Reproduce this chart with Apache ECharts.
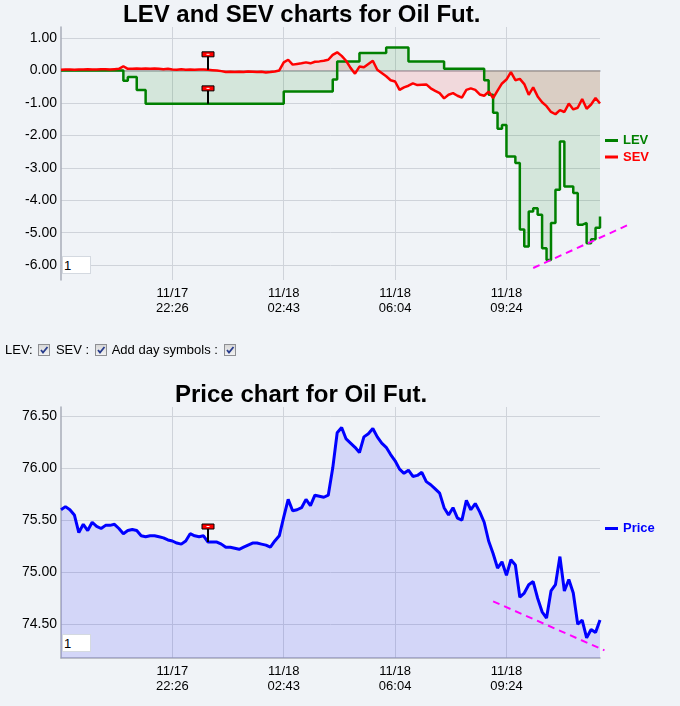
<!DOCTYPE html>
<html>
<head>
    <meta charset="utf-8">
    <title>LEV and SEV charts for Oil Fut.</title>
    <script src="https://cdn.jsdelivr.net/npm/echarts@6/dist/echarts.min.js"></script>
    <style>
        body { margin: 0; background: #f0f3f7; font-family: 'Liberation Sans', Arial, sans-serif; }
        #main { position: absolute; left: 0; top: 0; width: 680px; height: 706px; }
        .box1 { position: absolute; left: 62px; width: 29px; height: 18px; box-sizing: border-box;
                border: 1px solid #d4d9e0; background: #fff; font: 13px 'Liberation Sans', Arial; padding: 0 1px; }
        #opts { position: absolute; left: 5px; top: 342px; font-size: 13px; color: #000; }
        #opts input { -webkit-appearance: none; appearance: none; width: 12px; height: 12px; margin: 0 2px;
                      vertical-align: -2px; border: 1px solid #8e8f93;
                      background: url("data:image/svg+xml;utf8,<svg xmlns='http://www.w3.org/2000/svg' width='10' height='10'><path d='M2 5 L4 7.5 L8.5 2' fill='none' stroke='%23283c8c' stroke-width='1.8'/></svg>") center no-repeat, linear-gradient(#d8d8d8, #f2f2f2); }
    </style>
</head>
<body>
<div id="main"></div>
<input class="box1" style="top:256px" value="1">
<input class="box1" style="top:634px" value="1">
<div id="opts">LEV: <input type="checkbox" checked> SEV : <input type="checkbox" checked> Add day symbols : <input type="checkbox" checked></div>
<script>
    // x positions are bar indexes, labels only on a few of them
    var tickIdx = [25, 50, 75, 100];
    var tickText = ['11/17\n22:26', '11/18\n02:43', '11/18\n06:04', '11/18\n09:24'];

    var lev = [
        0, 0, 0, 0, 0, 0, 0, 0, 0, 0,
        0, 0, 0, 0, -0.32, -0.2, -0.2, -0.6, -0.6, -1.03,
        -1.03, -1.03, -1.03, -1.03, -1.03, -1.03, -1.03, -1.03, -1.03, -1.03,
        -1.03, -1.03, -1.03, -1.03, -1.03, -1.03, -1.03, -1.03, -1.03, -1.03,
        -1.03, -1.03, -1.03, -1.03, -1.03, -1.03, -1.03, -1.03, -1.03, -1.03,
        -0.65, -0.65, -0.65, -0.65, -0.65, -0.65, -0.65, -0.65, -0.65, -0.65,
        -0.65, -0.28, 0.28, 0.28, 0.28, 0.28, 0.28, 0.54, 0.54, 0.54,
        0.54, 0.54, 0.54, 0.71, 0.71, 0.71, 0.71, 0.71, 0.28, 0.28,
        0.28, 0.28, 0.28, 0.28, 0.28, 0.28, 0.05, 0.05, 0.05, 0.05,
        0.05, 0.05, 0.05, 0.05, 0.05, -0.3, -0.75, -1.3, -1.8, -1.68,
        -2.65, -2.65, -2.85, -4.9, -5.43, -4.35, -4.25, -4.45, -5.48, -5.84,
        -4.7, -3.68, -2.19, -3.58, -3.58, -3.78, -4.76, -4.7, -5.33, -5.2,
        -4.85, -4.5
    ];
    var sev = [
        0.02, 0.03, 0.03, 0.02, 0.03, 0.03, 0.04, 0.03, 0.03, 0.04,
        0.04, 0.03, 0.04, 0.05, 0.13, 0.05, 0.05, 0.06, 0.05, 0.06,
        0.05, 0.06, 0.05, 0.04, 0.05, 0.03, 0.02, 0.04, 0.02, 0.03,
        0.02, 0.03, 0.03, 0.02, 0.01, 0.0, -0.02, -0.05, -0.04, -0.05,
        -0.04, -0.05, -0.03, -0.04, -0.05, -0.04, -0.06, -0.05, -0.03, 0.0,
        0.25, 0.33, 0.18, 0.2, 0.22, 0.25, 0.22, 0.27, 0.28, 0.3,
        0.33, 0.48, 0.56, 0.45, 0.3, 0.08, -0.1, 0.12, 0.1, 0.2,
        0.3, 0.02, -0.08, -0.18, -0.3, -0.34, -0.6, -0.52, -0.47, -0.4,
        -0.45, -0.44, -0.43, -0.55, -0.63, -0.7, -0.86, -0.75, -0.7, -0.78,
        -0.84, -0.6, -0.55, -0.6, -0.74, -0.78, -0.65, -0.85, -0.62, -0.4,
        -0.28, -0.05, -0.3, -0.26, -0.42, -0.75, -0.52, -0.8, -0.98, -1.1,
        -1.28, -1.35, -1.22, -1.28, -1.02, -1.2, -1.15, -0.88, -1.18, -1.05,
        -0.85, -1.02
    ];
    var price = [
        75.6, 75.63, 75.6, 75.55, 75.38, 75.46, 75.4, 75.48, 75.44, 75.42,
        75.45, 75.45, 75.46, 75.42, 75.37, 75.4, 75.41, 75.4, 75.35, 75.34,
        75.35, 75.35, 75.34, 75.33, 75.31, 75.3, 75.28, 75.27, 75.3, 75.37,
        75.35, 75.34, 75.35, 75.29, 75.29, 75.29, 75.27, 75.24, 75.24, 75.23,
        75.22, 75.24, 75.26, 75.28, 75.28, 75.27, 75.26, 75.24, 75.3, 75.35,
        75.53, 75.7, 75.59, 75.6, 75.62, 75.7, 75.64, 75.74, 75.73, 75.72,
        75.74, 76.0, 76.34, 76.39, 76.28, 76.24, 76.2, 76.15, 76.3, 76.33,
        76.38, 76.3, 76.24, 76.2, 76.13, 76.07, 75.99, 75.95, 75.98, 75.92,
        75.93, 75.96, 75.87, 75.84, 75.8, 75.76, 75.62, 75.55, 75.62, 75.52,
        75.5, 75.69, 75.6, 75.66, 75.58, 75.48, 75.3, 75.18, 75.04, 75.1,
        74.97, 75.12, 75.07, 74.76, 74.8, 74.88, 74.91, 74.75, 74.62, 74.56,
        74.82, 74.88, 75.15, 74.82, 74.93, 74.8, 74.5, 74.54, 74.37, 74.45,
        74.42, 74.54
    ];
    // day symbol and trend lines
    var flagIdx = 33;
    var levTrend = [106, -6.09, 128, -4.72];
    var priceTrend = [97, 74.72, 122, 74.25];

    var cats = [];
    for (var i = 0; i < price.length; i++) cats.push(String(i));

    var font = "'Liberation Sans', Arial, sans-serif";

    function showTick(i) { return tickIdx.indexOf(i) >= 0; }
    function xAxisOf(g) {
        return {
            type: 'category', gridIndex: g, data: cats, boundaryGap: false,
            axisLine: { lineStyle: { color: '#a9adb8', width: 1.5 } },
            axisTick: { show: false },
            axisLabel: {
                interval: function (i) { return showTick(i); },
                formatter: function (v, i) { var k = tickIdx.indexOf(i); return k >= 0 ? tickText[k] : ''; },
                color: '#000', fontSize: 13, lineHeight: 15, margin: 6, fontFamily: font
            },
            splitLine: { show: true, interval: function (i) { return showTick(i); },
                lineStyle: { color: '#cfd3da' } }
        };
    }
    function yAxisOf(g, mn, mx, step) {
        return {
            type: 'value', gridIndex: g, min: mn, max: mx, minInterval: step, maxInterval: step,
            axisLine: { show: true, lineStyle: { color: '#a9adb8', width: 1.5 } },
            axisTick: { show: false },
            axisLabel: {
                color: '#000', fontSize: 14, margin: 4, fontFamily: font,
                formatter: function (v) {
                    var r = v / step;
                    return Math.abs(r - Math.round(r)) > 1e-6 ? '' : v.toFixed(2);
                }
            },
            splitLine: { lineStyle: { color: '#cfd3da' }, showMinLine: false, showMaxLine: false }
        };
    }

    function flagItem(params, api) {
        var p = api.coord([api.value(0), api.value(1)]);
        return {
            type: 'group', children: [
                { type: 'line', shape: { x1: p[0], y1: p[1], x2: p[0], y2: p[1] - 14 },
                  style: { stroke: '#000', lineWidth: 2 } },
                { type: 'rect', shape: { x: p[0] - 6, y: p[1] - 18, width: 12, height: 5 },
                  style: { fill: '#ff0000', stroke: '#000', lineWidth: 1 } },
                { type: 'rect', shape: { x: p[0] - 1.5, y: p[1] - 16, width: 3, height: 1 },
                  style: { fill: '#fff' } }
            ]
        };
    }
    function trendItem(params, api) {
        var a = api.coord([api.value(0), api.value(1)]);
        var b = api.coord([api.value(2), api.value(3)]);
        return { type: 'line', shape: { x1: a[0], y1: a[1], x2: b[0], y2: b[1] },
                 style: { stroke: '#ff00ff', lineWidth: 2, lineDash: [7, 5] } };
    }

    var chart = echarts.init(document.getElementById('main'));
    var option = {
        animation: false,
        title: [
            { text: 'LEV and SEV charts for Oil Fut.', left: 123, top: 3, padding: 0,
              textStyle: { fontSize: 24, fontWeight: 'bold', color: '#000', fontFamily: font } },
            { text: 'Price chart for Oil Fut.', left: 175, top: 383, padding: 0,
              textStyle: { fontSize: 24, fontWeight: 'bold', color: '#000', fontFamily: font } }
        ],
        legend: [
            { data: [{ name: 'LEV', textStyle: { color: '#008000' } }, { name: 'SEV', textStyle: { color: '#ff0000' } }],
              orient: 'vertical', left: 605, top: 134, padding: 0, itemWidth: 13, itemHeight: 3, itemGap: 3.5,
              icon: 'rect', selectedMode: false,
              textStyle: { fontSize: 13, fontWeight: 'bold', fontFamily: font } },
            { data: [{ name: 'Price', textStyle: { color: '#0000ff' } }],
              orient: 'vertical', left: 605, top: 522, padding: 0, itemWidth: 13, itemHeight: 3,
              icon: 'rect', selectedMode: false,
              textStyle: { fontSize: 13, fontWeight: 'bold', fontFamily: font } }
        ],
        grid: [
            { left: 61, top: 27, width: 539, height: 253 },
            { left: 61, top: 407, width: 539, height: 251 }
        ],
        xAxis: [xAxisOf(0), xAxisOf(1)],
        yAxis: [yAxisOf(0, -6.46, 1.34, 1), yAxisOf(1, 74.176, 76.587, 0.5)],
        series: [
            { name: 'LEV', type: 'line', xAxisIndex: 0, yAxisIndex: 0, data: lev, step: 'end',
              showSymbol: false, symbol: 'none', color: '#008000',
              lineStyle: { width: 2.5, color: '#008000' },
              areaStyle: { color: 'rgba(0,128,0,0.16)' } },
            { name: 'SEV', type: 'line', xAxisIndex: 0, yAxisIndex: 0, data: sev,
              showSymbol: false, symbol: 'none', color: '#ff0000',
              lineStyle: { width: 2.5, color: '#ff0000' },
              areaStyle: { color: 'rgba(255,0,0,0.15)' } },
            { name: 'Price', type: 'line', xAxisIndex: 1, yAxisIndex: 1, data: price,
              showSymbol: false, symbol: 'none', color: '#0000ff',
              lineStyle: { width: 3, color: '#0000ff' },
              areaStyle: { color: 'rgba(0,0,255,0.17)', origin: 'start' } },
            { type: 'custom', xAxisIndex: 0, yAxisIndex: 0, renderItem: flagItem, z: 5,
              data: [[flagIdx, sev[flagIdx]], [flagIdx, lev[flagIdx]]] },
            { type: 'custom', xAxisIndex: 1, yAxisIndex: 1, renderItem: flagItem, z: 5,
              data: [[flagIdx, price[flagIdx]]] },
            { type: 'custom', xAxisIndex: 0, yAxisIndex: 0, renderItem: trendItem, clip: false, z: 6,
              encode: { x: [0, 2], y: [1, 3] }, data: [levTrend] },
            { type: 'custom', xAxisIndex: 1, yAxisIndex: 1, renderItem: trendItem, clip: false, z: 6,
              encode: { x: [0, 2], y: [1, 3] }, data: [priceTrend] }
        ]
    };
    chart.setOption(option);
</script>
</body>
</html>
